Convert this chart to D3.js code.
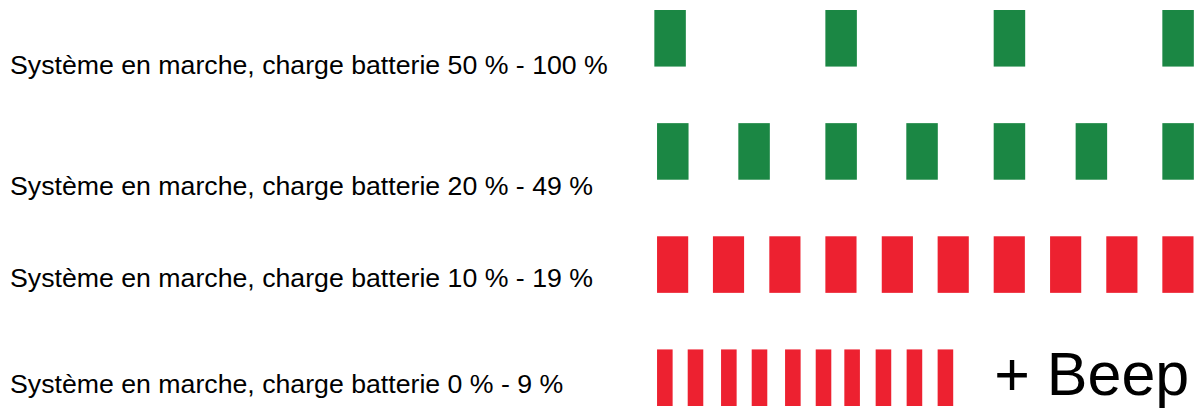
<!DOCTYPE html>
<html>
<head>
<meta charset="utf-8">
<script src="https://cdn.jsdelivr.net/npm/d3@7"></script>
<style>
  html, body { margin: 0; padding: 0; background: #fff; }
  svg { display: block; }
</style>
</head>
<body>
<svg id="chart" width="1201" height="408"></svg>
<script>
// ---- data (times in ms along a 3-second timeline) ----
const rows = ["r50", "r20", "r10", "r0"];
const labels = [
  "Système en marche, charge batterie 50 % - 100 %",
  "Système en marche, charge batterie 20 % - 49 %",
  "Système en marche, charge batterie 10 % - 19 %",
  "Système en marche, charge batterie 0 % - 9 %"
];
const rowColors = ["green", "green", "red", "red"];
const starts50 = [2, 1012, 2006, 3002];
const starts20 = [18, 498, 1012, 1490, 2006, 2490, 3002];
const starts10 = [18, 348, 681, 1012, 1345, 1675, 2006, 2339, 2671, 3002];
const starts0  = [18, 199, 396, 577, 774, 955, 1124, 1309, 1492, 1675];
const durations = [186, 186, 184, 92];
const extraText = "+ Beep";

const startsByRow = [starts50, starts20, starts10, starts0];
const palette = { green: "#1b8744", red: "#ed2130" };

const svg = d3.select("#chart");

const x = d3.scaleLinear().domain([0, 3000]).range([654, 1162]);
const y = d3.scaleBand().domain(rows).range([10, 406]).paddingInner(0.5).paddingOuter(0);

const bars = [];
rows.forEach((r, i) => {
  startsByRow[i].forEach(s => bars.push({ row: r, start: s, dur: durations[i], color: rowColors[i] }));
});

svg.append("g").selectAll("rect")
  .data(bars)
  .join("rect")
  .attr("x", d => x(d.start))
  .attr("y", d => y(d.row))
  .attr("width", d => x(d.start + d.dur) - x(d.start))
  .attr("height", y.bandwidth())
  .attr("fill", d => palette[d.color]);

// label baselines relative to each row's band top
const labelOffsets = [64, 72, 50.5, 44];
svg.append("g").selectAll("text")
  .data(labels)
  .join("text")
  .attr("x", 10)
  .attr("y", (d, i) => y(rows[i]) + labelOffsets[i])
  .attr("font-family", "'Liberation Sans', Arial, Helvetica, sans-serif")
  .attr("font-size", 26.7)
  .attr("fill", "#000")
  .text(d => d);

svg.append("text")
  .attr("x", x(starts0[starts0.length - 1] + durations[3]) + 41)
  .attr("y", y("r0") + 46)
  .attr("font-family", "'Liberation Sans', Arial, Helvetica, sans-serif")
  .attr("font-size", 61)
  .attr("fill", "#000")
  .text(extraText);
</script>
</body>
</html>
